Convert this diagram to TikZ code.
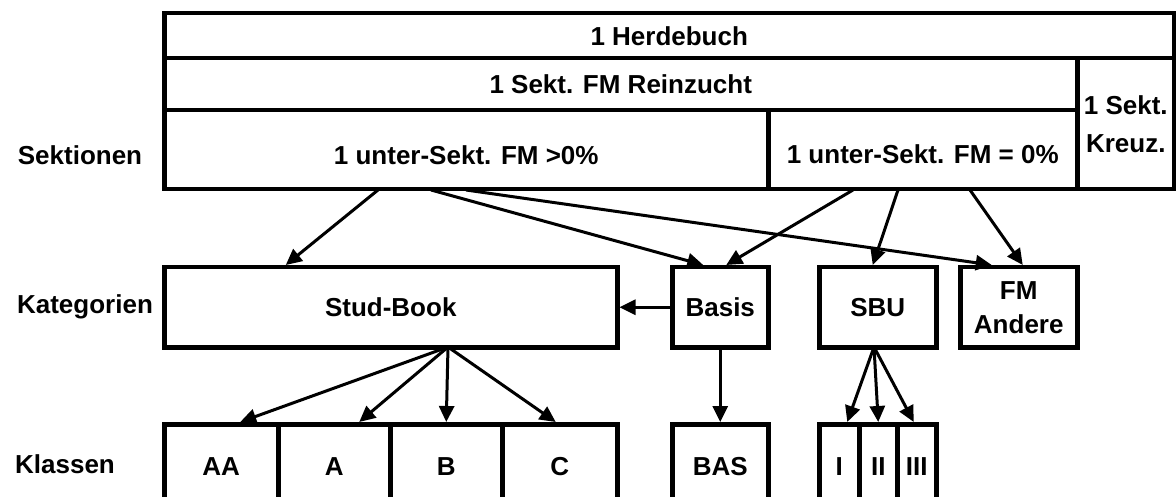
\documentclass[tikz,border=0pt]{standalone}
\usepackage{fontspec}
\setmainfont{Liberation Sans}
\usetikzlibrary{arrows.meta,positioning,calc}

\begin{document}
\begin{tikzpicture}
[x=1pt,y=-1pt, font=\fontsize{26}{38}\selectfont\bfseries,
box/.style={draw,line width=4.5pt,anchor=north west,inner sep=0pt,align=center},
link/.style={-{Triangle[length=16pt,width=15pt]},line width=3pt}]
\useasboundingbox (0,0) rectangle (1176,497);
\clip (0,0) rectangle (1176,497);

\node (herd) at (162,11)[box,minimum width=1010pt,minimum height=45pt] {1 Herdebuch};
\node (rein) at (162,56)[box,minimum width=913pt,minimum height=52pt] {1 Sekt. FM Reinzucht};
\node (kreuz) at (1075,56)[box,minimum width=97pt,minimum height=131pt] {1 Sekt.\\Kreuz.};
\node (gt0) at (162,108)[box,minimum width=604pt,minimum height=79pt,text height=30pt] {1 unter-Sekt. FM >0\%};
\node (eq0) at (766,108)[box,minimum width=309pt,minimum height=79pt,text height=28pt] {1 unter-Sekt. FM = 0\%};

\node (stud) at (162,265)[box,minimum width=453pt,minimum height=80pt] {Stud-Book};
\node (basis) at (670,265)[box,minimum width=96pt,minimum height=80pt] {Basis};
\node (sbu) at (817,265)[box,minimum width=117pt,minimum height=80pt] {SBU};
\node (fma) at (958,265)[box,minimum width=117pt,minimum height=80pt,font=\fontsize{26}{34}\selectfont\bfseries] {FM\\Andere};

\node (aa) at (162,422)[box,minimum width=114pt,minimum height=84pt] {AA};
\node (a) at (276,422)[box,minimum width=112pt,minimum height=84pt] {A};
\node (b) at (388,422)[box,minimum width=112pt,minimum height=84pt] {B};
\node (c) at (500,422)[box,minimum width=115pt,minimum height=84pt] {C};
\node (bas) at (670,422)[box,minimum width=96pt,minimum height=84pt] {BAS};
\node (k1) at (817,422)[box,minimum width=40pt,minimum height=84pt] {I};
\node (k2) at (857,422)[box,minimum width=38pt,minimum height=84pt] {II};
\node (k3) at (895,422)[box,minimum width=39pt,minimum height=84pt] {III};

\node (sek) at (80,155) {Sektionen};
\node (kat) at (85,307) {Kategorien};
\node (kla) at (65,464) {Klassen};

\coordinate (g1) at (378,190);
\coordinate (g2) at (431,190);
\coordinate (g3) at (466,190);
\coordinate (e1) at (853,190);
\coordinate (e2) at (898,190);
\coordinate (e3) at (970,190);
\coordinate (sb) at (448,347);
\coordinate (sq) at (874,347);

\draw[link] (g1) -- ([xshift=-105pt]stud.north);
\draw[link] (g2) -- ([xshift=-17pt]basis.north);
\draw[link] (g3) -- ([xshift=-27pt]fma.north);
\draw[link] (e1) -- ([xshift=6pt]basis.north);
\draw[link] (e2) -- ([xshift=-5pt]sbu.north);
\draw[link] (e3) -- ([xshift=4pt]fma.north);
\draw[link] (basis.west) -- (stud.east);
\draw[link] (basis.south) -- (bas.north);

\draw[link] (sb) -- ([xshift=19pt]aa.north);
\draw[link] (sb) -- ([xshift=25pt]a.north);
\draw[link] (sb) -- (b.north);
\draw[link] (sb) -- ([xshift=-4pt]c.north);

\draw[link] (sq) -- ([xshift=8pt]k1.north);
\draw[link] (sq) -- (k2.north);
\draw[link] (sq) -- ([xshift=-3pt]k3.north);
\end{tikzpicture}
\end{document}
